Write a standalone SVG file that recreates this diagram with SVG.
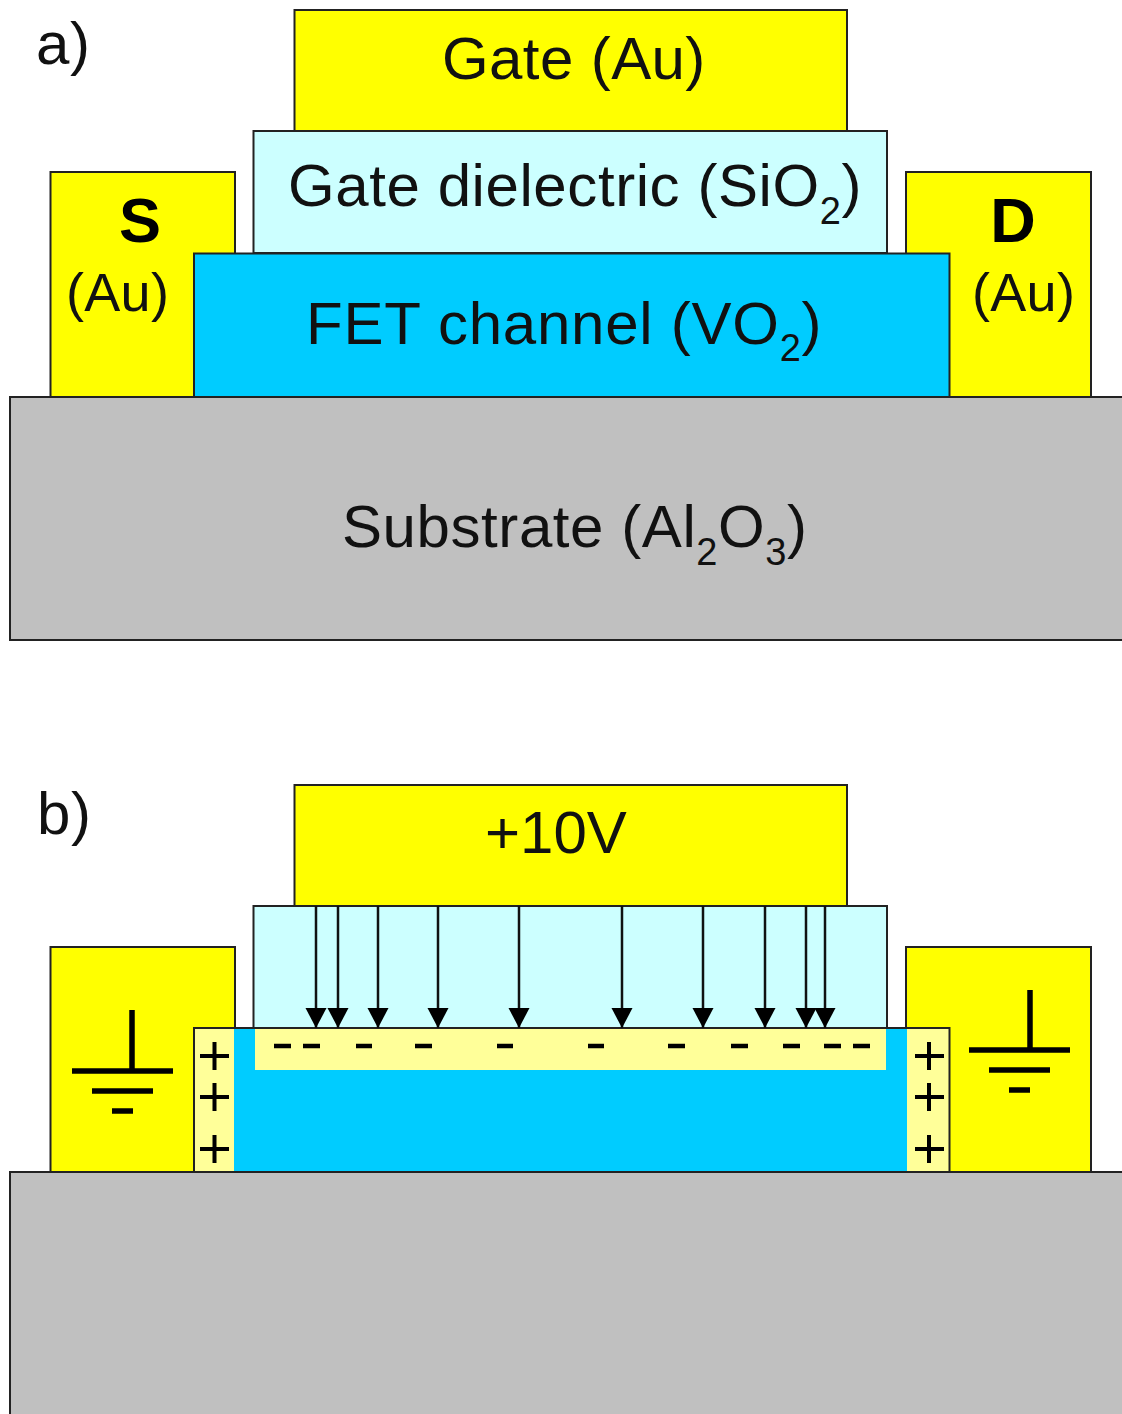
<svg xmlns="http://www.w3.org/2000/svg" width="1122" height="1414" viewBox="0 0 1122 1414">
<style>
.s{stroke:#222;stroke-width:2}
.au{fill:#ffff00}.di{fill:#ccffff}.ch{fill:#00ccff}.sub{fill:#c0c0c0}.pale{fill:#ffff99}
text{font-family:"Liberation Sans",Arial,sans-serif;font-size:60px;fill:#111}
.b{font-weight:bold;font-size:63px;fill:#000}.m{font-size:54px;letter-spacing:.3px}
.i{font-size:38px}
.w{letter-spacing:.58px}
.sym{stroke:#000;stroke-width:5.500;fill:none}
.pl{stroke:#000;stroke-width:4;fill:none}
.mi{stroke:#000;stroke-width:4.500;fill:none}
.ar{stroke:#111;stroke-width:2.500;fill:none;marker-end:url(#ah)}
</style>
<defs>
<marker id="ah" markerUnits="userSpaceOnUse" markerWidth="20" markerHeight="22" refX="20" refY="11" orient="auto" viewBox="0 0 20 22">
<path d="M0 .5L20 11L0 21.500Z" fill="#000"/>
</marker>
</defs>
<rect width="1122" height="1414" fill="#fff"/>

<g id="panel-a">
<text x="36" y="64" class="w">a)</text>
<g id="a-substrate"><path class="s sub" d="M1124 397H10V640H1124"/><text class="w" x="342" y="547">Substrate (Al<tspan class="i" dy="18">2</tspan><tspan dy="-18">O</tspan><tspan class="i" dy="18">3</tspan><tspan dy="-18">)</tspan></text></g>
<g id="a-source"><rect class="s au" x="50.500" y="172" width="184.500" height="225"/><text class="b" x="140" y="242" text-anchor="middle">S</text><text class="m" x="66" y="311">(Au)</text></g>
<g id="a-drain"><rect class="s au" x="906" y="172" width="185" height="225"/><text class="b" x="1013" y="242" text-anchor="middle">D</text><text class="m" x="972" y="311">(Au)</text></g>
<g id="a-dielectric"><rect class="s di" x="253.500" y="131" width="633.500" height="122"/><text class="w" x="288" y="206">Gate dielectric (SiO<tspan class="i" dy="18">2</tspan><tspan dy="-18">)</tspan></text></g>
<g id="a-gate"><rect class="s au" x="294.500" y="10" width="552.500" height="121"/><text x="442" y="79" style="letter-spacing:.4px">Gate (Au)</text></g>
<g id="a-channel"><rect class="s ch" x="194" y="253.500" width="755.500" height="143.500"/><text x="306" y="344" style="letter-spacing:.75px">FET channel (VO<tspan class="i" dy="17">2</tspan><tspan dy="-17">)</tspan></text></g>
</g>

<g id="panel-b">
<text x="37" y="834" class="w">b)</text>
<g id="b-substrate"><path class="s sub" d="M1124 1172H10V1416H1124"/></g>
<g id="b-source"><rect class="s au" x="50.500" y="947" width="184.500" height="225"/>
<path class="sym" d="M132 1010V1071M72 1071H173M92 1091H153M112 1111H133"/></g>
<g id="b-drain"><rect class="s au" x="906" y="947" width="185" height="225"/>
<path class="sym" d="M1030 990V1050M969 1050H1070M989 1070H1050M1009 1090H1030"/></g>
<g id="b-gate"><rect class="s au" x="294.500" y="785" width="552.500" height="121"/><text x="485" y="853">+10V</text></g>
<g id="b-dielectric"><rect class="s di" x="253.500" y="906" width="633.500" height="122"/></g>
<g id="b-channel"><rect class="ch" x="194" y="1028" width="755.500" height="144"/>
<rect class="pale" x="195" y="1029" width="39" height="143"/>
<rect class="pale" x="907" y="1029" width="42" height="143"/>
<rect class="pale" x="255" y="1029" width="631" height="41"/>
<path d="M194 1172V1028H949.500V1172H194" fill="none" stroke="#222" stroke-width="2"/>
<path class="pl" d="M200 1056H229M214.500 1042V1070M200 1097H229M214.500 1083V1111M200 1149H229M214.500 1135V1163"/>
<path class="pl" d="M915 1056H944M929 1042V1070M915 1097H944M929 1083V1111M915 1149H944M929 1135V1163"/>
<path class="mi" d="M274 1046H291M303 1046H320M356 1046H372M415 1046H432M497 1046H513M588 1046H604M668 1046H685M731 1046H748M783 1046H800M824 1046H841M853 1046H870"/>
</g>
<g id="connectors">
<path class="ar" d="M316 906V1028"/><path class="ar" d="M338 906V1028"/><path class="ar" d="M378 906V1028"/><path class="ar" d="M438 906V1028"/><path class="ar" d="M519 906V1028"/><path class="ar" d="M622 906V1028"/><path class="ar" d="M703 906V1028"/><path class="ar" d="M765 906V1028"/><path class="ar" d="M806 906V1028"/><path class="ar" d="M825 906V1028"/>
</g>
</g>
</svg>
